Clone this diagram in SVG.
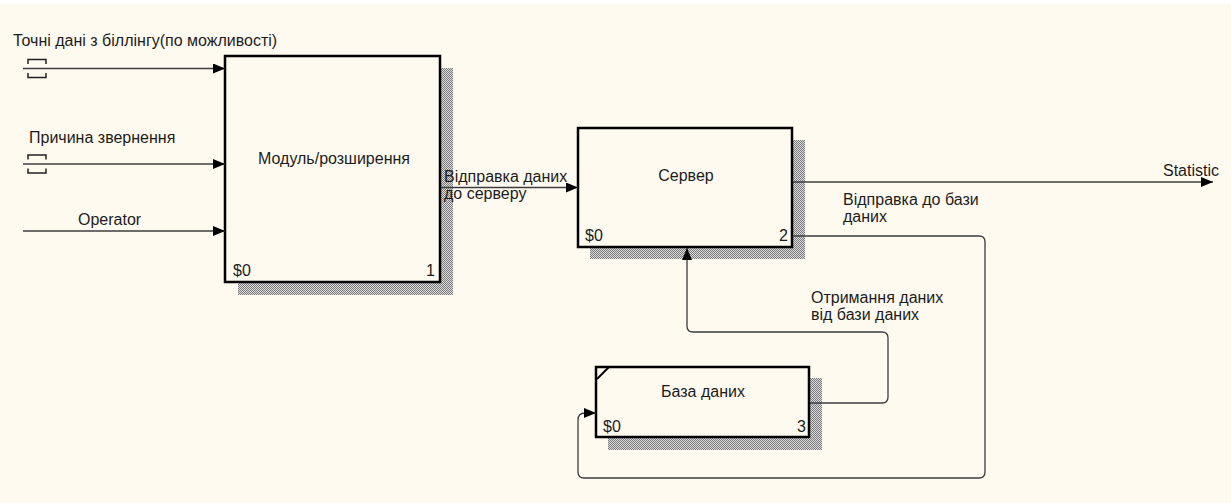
<svg xmlns="http://www.w3.org/2000/svg" width="1232" height="503" viewBox="0 0 1232 503">
  <style>
    text { font-family: "Liberation Sans", Arial, sans-serif; font-size: 16px; fill: #1c1c1c; }
    .box { fill: #fffaf0; stroke: #000; stroke-width: 2.5; }
    .shadow { fill: url(#hatch); }
    .flow { fill: none; stroke: #3c3c3c; stroke-width: 1.3; }
    .tunnel { fill: none; stroke: #222; stroke-width: 1.5; }
    .mid { text-anchor: middle; }
    .end { text-anchor: end; }
  </style>
  <defs>
    <pattern id="hatch" width="2" height="2" patternUnits="userSpaceOnUse">
      <rect width="2" height="2" fill="#dcdcdc"/>
      <rect width="1" height="1" fill="#7a7a7a"/>
      <rect x="1" y="1" width="1" height="1" fill="#7a7a7a"/>
    </pattern>
    <marker id="arrow" viewBox="0 0 12 10" refX="12" refY="5" markerWidth="12" markerHeight="10" markerUnits="userSpaceOnUse" orient="auto">
      <path d="M0,0 L12,5 L0,10 Z" fill="#000"/>
    </marker>
  </defs>

  <!-- page -->
  <rect x="0" y="0" width="1232" height="503" fill="#ffffff"/>
  <rect x="0" y="4" width="1231" height="499" fill="#fffaf0"/>

  <!-- activity boxes -->
  <g id="node-module">
    <rect class="shadow" x="440" y="68" width="13" height="227"/>
    <rect class="shadow" x="238" y="282" width="215" height="13"/>
    <rect class="box" x="225" y="56" width="215" height="226"/>
    <text class="mid" x="334" y="164">Модуль/розширення</text>
    <text x="233" y="276">$0</text>
    <text class="end" x="435" y="276">1</text>
  </g>

  <g id="node-server">
    <rect class="shadow" x="792" y="140" width="13" height="119"/>
    <rect class="shadow" x="590" y="247" width="215" height="12"/>
    <rect class="box" x="578" y="128" width="214" height="119"/>
    <text class="mid" x="686" y="181">Сервер</text>
    <text x="585" y="241">$0</text>
    <text class="end" x="788" y="241">2</text>
  </g>

  <g id="node-database">
    <rect class="shadow" x="809" y="378" width="13" height="72"/>
    <rect class="shadow" x="608" y="437" width="214" height="13"/>
    <rect class="box" x="596" y="367" width="213" height="70"/>
    <path d="M597,379 L609,367" stroke="#000" stroke-width="2" fill="none"/>
    <text class="mid" x="703" y="397">База даних</text>
    <text x="603" y="432">$0</text>
    <text class="end" x="806" y="432">3</text>
  </g>

  <!-- arrows between boxes and boundary -->
  <g id="connectors">
    <path class="flow" d="M23,68.5 H225" marker-end="url(#arrow)"/>
    <path class="tunnel" d="M28,64 V59.5 H46 V64 M28,73 V77.5 H46 V73"/>
    <path class="flow" d="M23,164 H225" marker-end="url(#arrow)"/>
    <path class="tunnel" d="M28,159.5 V155 H46 V159.5 M28,168.5 V173 H46 V168.5"/>
    <path class="flow" d="M23,231 H225" marker-end="url(#arrow)"/>
    <path class="flow" d="M441,187.5 H578" marker-end="url(#arrow)"/>
    <path class="flow" d="M793,182 H1213" marker-end="url(#arrow)"/>
    <path class="flow" d="M793,236 H979 Q985,236 985,242 V472 Q985,478 979,478 H584 Q578,478 578,472 V420 Q578,413 585,413 H596" marker-end="url(#arrow)"/>
    <path class="flow" d="M810,403 H882 Q888,403 888,397 V338 Q888,332 882,332 H693 Q687,332 687,326 V248" marker-end="url(#arrow)"/>
  </g>

  <!-- arrow labels -->
  <g id="labels">
    <text x="13" y="46">Точні дані з біллінгу(по можливості)</text>
    <text x="29" y="143">Причина звернення</text>
    <text x="78" y="225">Operator</text>
    <text x="444" y="182">Відправка даних</text>
    <text x="444" y="199">до серверу</text>
    <text class="end" x="1219" y="176">Statistic</text>
    <text x="843" y="205">Відправка до бази</text>
    <text x="843" y="222">даних</text>
    <text x="811" y="303">Отримання даних</text>
    <text x="811" y="320">від бази даних</text>
  </g>
</svg>
